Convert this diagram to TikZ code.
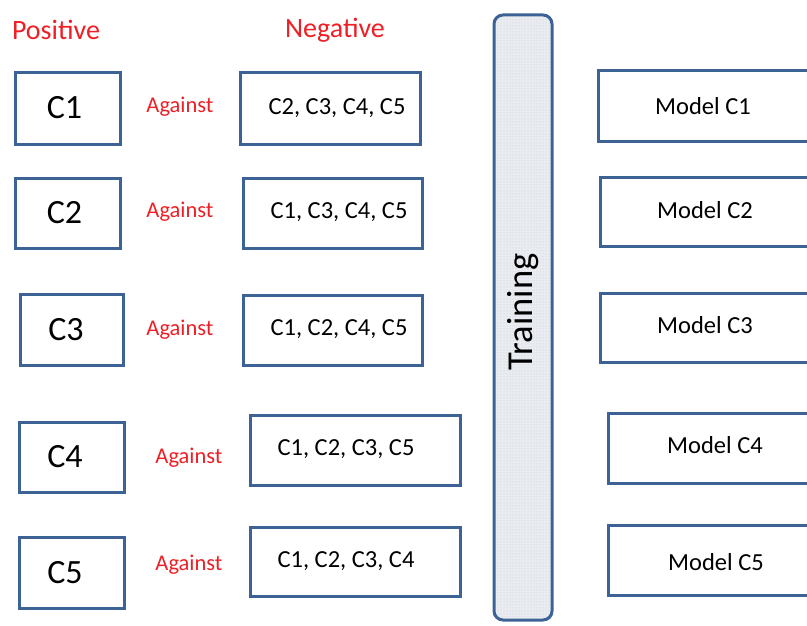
\documentclass[tikz,border=0pt]{standalone}
\usepackage{fontspec}
\setmainfont{Carlito}
\usetikzlibrary{patterns}
\definecolor{bord}{HTML}{3D6396}
\definecolor{redt}{HTML}{EE2027}
\definecolor{barfill}{HTML}{E9ECF1}
\begin{document}
\begin{tikzpicture}[x=1pt,y=-1pt,
  box/.style={draw=bord, line width=3pt, fill=white, inner sep=0pt},
  poslbl/.style={font=\fontsize{34}{36}\selectfont},
  neglbl/.style={font=\fontsize{24.5}{26}\selectfont},
  modlbl/.style={font=\fontsize{24.5}{26}\selectfont},
  redlbl/.style={text=redt, font=\fontsize{22.5}{24}\selectfont},
  headlbl/.style={text=redt, font=\fontsize{28}{30}\selectfont}]
\useasboundingbox (0,0) rectangle (807,626);
\clip (0,0) rectangle (807,626);
% headers
\node[headlbl] (hpos) at (56,30) {Positive};
\node[headlbl] (hneg) at (335,30) {Negative};
% positive boxes
\node[box, minimum width=105, minimum height=72] (p1) at (67.5,109) {};
\node[poslbl] at (64.5,108) {C1};
\node[box, minimum width=105, minimum height=70] (p2) at (67.5,213) {};
\node[poslbl] at (64.5,213) {C2};
\node[box, minimum width=103, minimum height=71] (p3) at (71.5,329.5) {};
\node[poslbl] at (66,329.5) {C3};
\node[box, minimum width=105, minimum height=70] (p4) at (71.5,457) {};
\node[poslbl] at (65,457) {C4};
\node[box, minimum width=105, minimum height=71] (p5) at (71.5,572.5) {};
\node[poslbl] at (65,573) {C5};
% against
\node[redlbl] (a1) at (180,107) {Against};
\node[redlbl] (a2) at (180,212) {Against};
\node[redlbl] (a3) at (180,330) {Against};
\node[redlbl] (a4) at (189,458) {Against};
\node[redlbl] (a5) at (189,565) {Against};
% negative boxes
\node[box, minimum width=180, minimum height=72] (n1) at (330,109) {};
\node[neglbl] at (337,108) {C2, C3, C4, C5};
\node[box, minimum width=179, minimum height=70] (n2) at (332.5,213) {};
\node[neglbl] at (339,212) {C1, C3, C4, C5};
\node[box, minimum width=179, minimum height=70] (n3) at (332.5,330) {};
\node[neglbl] at (339,329) {C1, C2, C4, C5};
\node[box, minimum width=210, minimum height=70] (n4) at (355,450) {};
\node[neglbl] at (346,449) {C1, C2, C3, C5};
\node[box, minimum width=210, minimum height=69] (n5) at (355,561.5) {};
\node[neglbl] at (346,561) {C1, C2, C3, C4};
% training bar
\draw[draw=bord, line width=3pt, fill=barfill, rounded corners=9pt] (494,15) rectangle (552,620);
\fill[pattern=dots, pattern color=gray!45, rounded corners=9pt] (495.5,16.5) rectangle (550.5,618.5);
\node[rotate=90, font=\fontsize{36.5}{38}\selectfont] (train) at (523,312) {Training};
% model boxes
\node[box, minimum width=230, minimum height=71] (m1) at (713,106.5) {};
\node[modlbl] at (703,106) {Model C1};
\node[box, minimum width=230, minimum height=69] (m2) at (715,211.5) {};
\node[modlbl] at (705,210) {Model C2};
\node[box, minimum width=230, minimum height=69] (m3) at (715,327.5) {};
\node[modlbl] at (705,325) {Model C3};
\node[box, minimum width=230, minimum height=70] (m4) at (723,448) {};
\node[modlbl] at (715,445) {Model C4};
\node[box, minimum width=230, minimum height=70] (m5) at (723,560) {};
\node[modlbl] at (716,562) {Model C5};
\end{tikzpicture}
\end{document}
